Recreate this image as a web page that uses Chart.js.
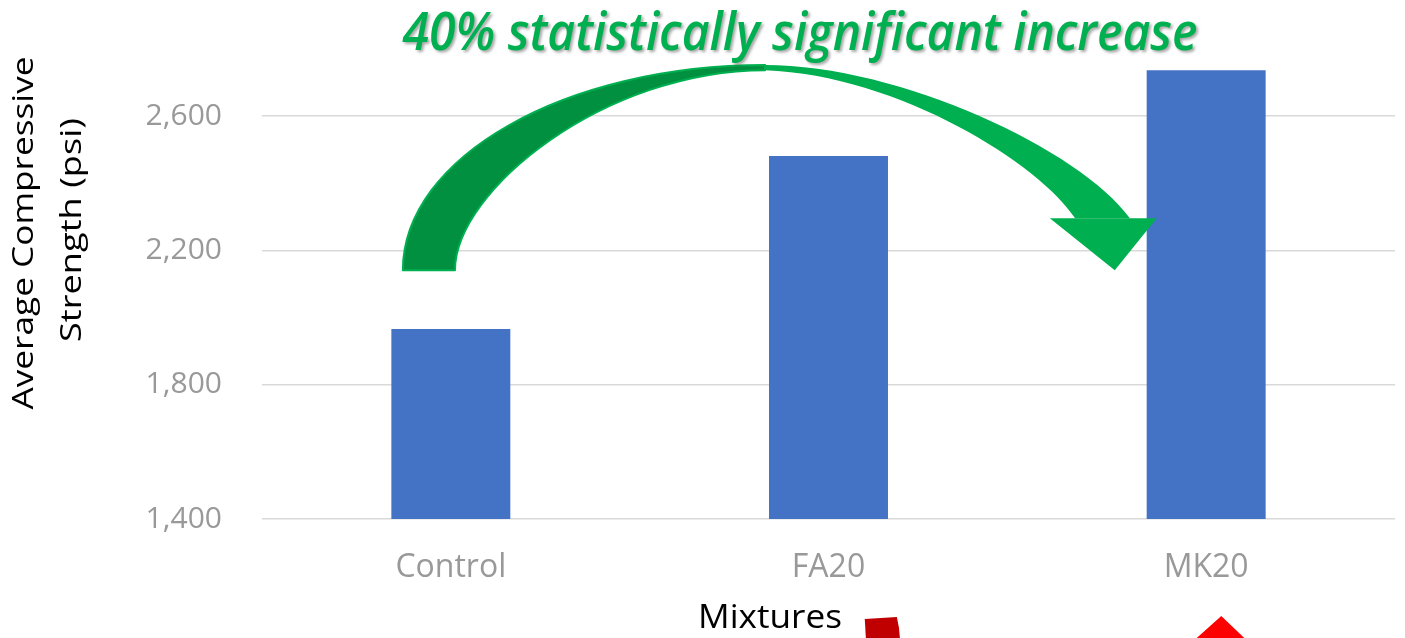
<!DOCTYPE html>
<html>
<head>
<meta charset="utf-8">
<script src="https://cdn.jsdelivr.net/npm/chart.js@4"></script>
<style>
  html, body { margin: 0; padding: 0; background: #ffffff; }
  #wrap { width: 1405px; height: 638px; }
</style>
</head>
<body>
<div id="wrap"><canvas id="chart" width="1405" height="638"></canvas></div>
<script>
// Mixtures and their average compressive strength (psi)
const categories = ['Control', 'FA20', 'MK20'];
const strength = [1966, 2481, 2737];

// Value axis
const yTicks = [1400, 1800, 2200, 2600];
const yMin = 1400;
const yMax = 2800;

// Text
const headline = '40% statistically significant increase';
const yTitleLines = ['Average Compressive', 'Strength (psi)'];
const xTitle = 'Mixtures';

const FAMILY = "'Open Sans', 'Noto Sans', sans-serif";

// Draws text centred on (cx, baseline) squeezed to an exact width
function fitText(ctx, text, cx, baseY, width, font, color, angle, shadow) {
  ctx.save();
  ctx.font = font;
  const w = ctx.measureText(text).width;
  ctx.translate(cx, baseY);
  if (angle) ctx.rotate(angle);
  ctx.scale(width / w, 1);
  ctx.textAlign = 'center';
  ctx.textBaseline = 'alphabetic';
  if (shadow) {
    ctx.shadowColor = 'rgba(0,0,0,0.35)';
    ctx.shadowBlur = 3;
    ctx.shadowOffsetX = 2;
    ctx.shadowOffsetY = 2;
  }
  ctx.fillStyle = color;
  ctx.fillText(text, 0, 0);
  ctx.restore();
}

// Curved arrow, headline, axis titles and the red shapes along the bottom edge
const decor = {
  id: 'decor',
  afterDatasetsDraw(chart) {
    const { ctx, scales: { x, y } } = chart;
    // position from a fractional category index and a strength value
    const P = (c, v) => [x.getPixelForValue(c), y.getPixelForValue(v)];

    // ribbon of the curved arrow: tail over Control, head just left of MK20
    const tailOut = P(-0.127, 2141), tailIn = P(0.011, 2141);
    const topOut = P(0.832, 2752), topIn = P(0.832, 2737);
    const endOut = P(1.798, 2296), endIn = P(1.653, 2296);
    // control points, outer edge
    const o1 = P(-0.127, 2478), o2 = P(0.302, 2752);
    const o3 = P(1.190, 2752), o4 = P(1.667, 2499);
    // control points, inner edge
    const i1 = P(1.561, 2455), i2 = P(1.190, 2722);
    const i3 = P(0.408, 2737), i4 = P(0.011, 2379);
    // head
    const hL = P(1.586, 2296), hR = P(1.869, 2296), hT = P(1.758, 2141);

    ctx.save();
    ctx.lineJoin = 'round';
    // whole ribbon in the light green
    ctx.beginPath();
    ctx.moveTo(tailOut[0], tailOut[1]);
    ctx.bezierCurveTo(o1[0], o1[1], o2[0], o2[1], topOut[0], topOut[1]);
    ctx.bezierCurveTo(o3[0], o3[1], o4[0], o4[1], endOut[0], endOut[1]);
    ctx.lineTo(endIn[0], endIn[1]);
    ctx.bezierCurveTo(i1[0], i1[1], i2[0], i2[1], topIn[0], topIn[1]);
    ctx.bezierCurveTo(i3[0], i3[1], i4[0], i4[1], tailIn[0], tailIn[1]);
    ctx.closePath();
    ctx.fillStyle = '#00B050';
    ctx.fill();

    // rising half in the darker green, edged in the light green
    ctx.beginPath();
    ctx.moveTo(tailOut[0], tailOut[1]);
    ctx.bezierCurveTo(o1[0], o1[1], o2[0], o2[1], topOut[0], topOut[1]);
    ctx.lineTo(topIn[0], topIn[1]);
    ctx.bezierCurveTo(i3[0], i3[1], i4[0], i4[1], tailIn[0], tailIn[1]);
    ctx.closePath();
    ctx.fillStyle = '#00903F';
    ctx.fill();
    ctx.strokeStyle = '#00B050';
    ctx.lineWidth = 2;
    ctx.stroke();

    // arrow head
    ctx.beginPath();
    ctx.moveTo(hL[0], hL[1]);
    ctx.lineTo(hR[0], hR[1]);
    ctx.lineTo(hT[0], hT[1]);
    ctx.closePath();
    ctx.fillStyle = '#00B050';
    ctx.fill();
    ctx.restore();

    // red shapes cut off by the bottom edge
    const H0 = chart.height;
    ctx.save();
    ctx.fillStyle = '#C00000';
    ctx.beginPath();
    ctx.moveTo(x.getPixelForValue(1.096), 619);
    ctx.lineTo(x.getPixelForValue(1.181), 617);
    ctx.quadraticCurveTo(x.getPixelForValue(1.188), 628, x.getPixelForValue(1.189), H0);
    ctx.lineTo(x.getPixelForValue(1.099), H0);
    ctx.closePath();
    ctx.fill();
    ctx.fillStyle = '#FF0000';
    ctx.beginPath();
    ctx.moveTo(x.getPixelForValue(2.040), 616);
    ctx.lineTo(x.getPixelForValue(2.101), H0);
    ctx.lineTo(x.getPixelForValue(1.975), H0);
    ctx.closePath();
    ctx.fill();
    ctx.restore();

    // headline
    fitText(ctx, headline, 800, 50, 795, `italic 600 52px ${FAMILY}`, '#00B050', 0, true);

    // value axis title, two rotated lines
    fitText(ctx, yTitleLines[0], 33, 233, 353, `29px ${FAMILY}`, '#000000', -Math.PI / 2);
    fitText(ctx, yTitleLines[1], 81, 230, 224, `29px ${FAMILY}`, '#000000', -Math.PI / 2);

    // category axis title
    fitText(ctx, xTitle, 770, 628, 144, `32px ${FAMILY}`, '#000000', 0);
  }
};

new Chart(document.getElementById('chart'), {
  type: 'bar',
  data: {
    labels: categories,
    datasets: [{
      data: strength,
      backgroundColor: '#4472C4',
      borderWidth: 0,
      barPercentage: 0.315,
      categoryPercentage: 1
    }]
  },
  options: {
    responsive: false,
    animation: false,
    layout: { padding: { top: 49, right: 10, left: 0, bottom: 0 } },
    plugins: { legend: { display: false }, tooltip: { enabled: false } },
    scales: {
      x: {
        grid: { display: false, drawTicks: false },
        border: { display: false },
        ticks: { color: '#999999', font: { family: FAMILY, size: 32 }, padding: 30 },
        afterFit(s) { s.height = 119; s.paddingLeft = 0; s.paddingRight = 0; }
      },
      y: {
        min: yMin,
        max: yMax,
        afterBuildTicks(s) { s.ticks = yTicks.map(v => ({ value: v })); },
        grid: { color: '#D9D9D9', lineWidth: 1.5, drawTicks: false },
        border: { display: false },
        ticks: {
          color: '#999999',
          font: { family: FAMILY, size: 30 },
          padding: 40,
          callback: v => v.toLocaleString('en-US')
        },
        afterFit(s) { s.width = 262; s.paddingTop = 0; s.paddingBottom = 0; }
      }
    }
  },
  plugins: [decor]
});
</script>
</body>
</html>
